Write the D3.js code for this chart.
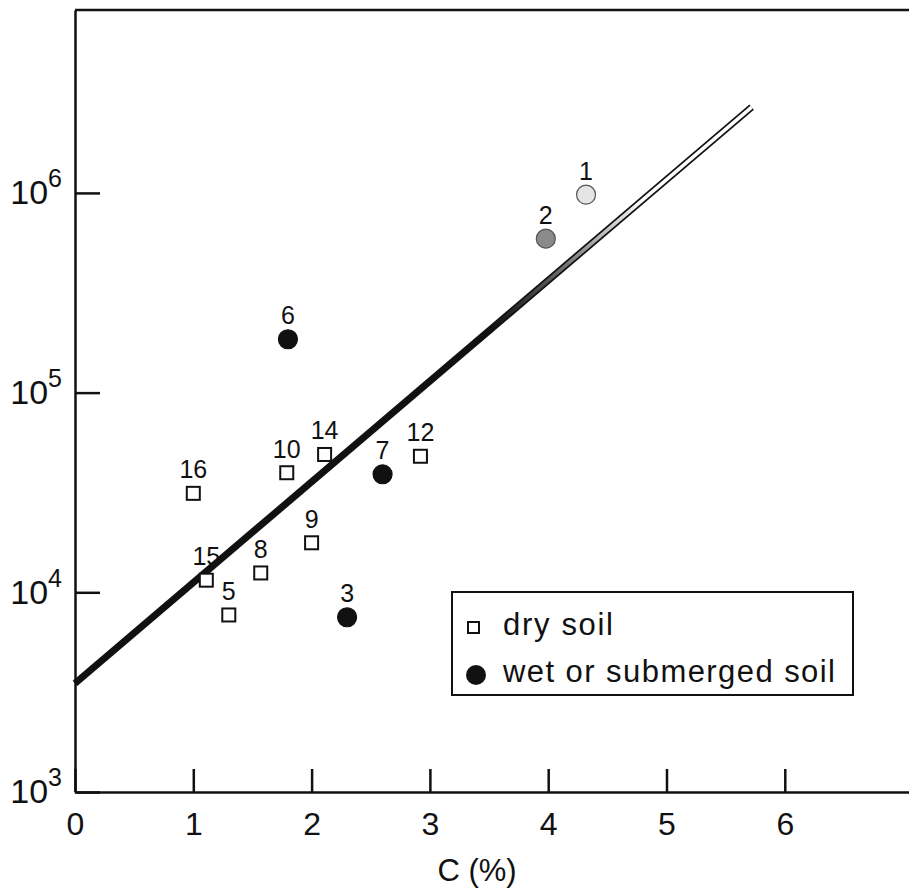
<html>
<head>
    <script src="https://cdn.jsdelivr.net/npm/d3@7"></script>
    <style>
        body { margin: 0; background: #fff; }
        svg { display: block; }
        text { font-family: "Liberation Sans", Arial, sans-serif; fill: #111; }
    </style>
</head>
<body>
    <svg id="Chart"></svg>
</body>
<script>
    //Data
    const pointIds   = ["1", "2", "3", "5", "6", "7", "8", "9", "10", "12", "14", "15", "16"]
    const carbonPct  = [4.32, 3.98, 2.30, 1.30, 1.80, 2.60, 1.57, 2.00, 1.79, 2.92, 2.11, 1.11, 1.00]
    const countValue = [9.8e5, 5.9e5, 7.5e3, 7.7e3, 1.85e5, 3.9e4, 1.25e4, 1.77e4, 3.97e4, 4.8e4, 4.9e4, 1.15e4, 3.13e4]
    const soilType   = ["light", "grey", "wet", "dry", "wet", "wet", "dry", "dry", "dry", "dry", "dry", "dry", "dry"]

    const fitX = [0, 5.72]
    const fitY = [3.5e3, 2.69e6]

    const xTicks = [0, 1, 2, 3, 4, 5, 6]
    const yTicks = [1e3, 1e4, 1e5, 1e6]
    const legendLabels = ["dry soil", "wet or submerged soil"]

    //Layout
    const WIDTH = 909
    const HEIGHT = 892
    const MARGIN = {left: 75, top: 10, right: 0, bottom: 100}

    const svg = d3.select("#Chart").attr("width", WIDTH).attr("height", HEIGHT)

    const x = d3.scaleLinear()
        .domain([0, 7.05])
        .range([MARGIN.left, WIDTH - MARGIN.right])

    const y = d3.scaleLog()
        .domain([1e3, Math.pow(10, 6.916)])
        .range([HEIGHT - MARGIN.bottom, MARGIN.top])

    //-------------------------- Axes --------------------------
    const xAxis = d3.axisBottom(x)
        .tickValues(xTicks)
        .tickSizeInner(-23)
        .tickSizeOuter(0)
        .tickPadding(20)
        .tickFormat(d3.format("d"))

    const gx = svg.append("g")
        .attr("transform", `translate(0,${y(1e3)})`)
        .call(xAxis)
    gx.selectAll("text").attr("font-size", 32).style("font-family", "Liberation Sans, sans-serif")

    const yAxis = d3.axisLeft(y)
        .tickValues(yTicks)
        .tickSizeInner(-25)
        .tickSizeOuter(0)
        .tickPadding(13)

    const gy = svg.append("g")
        .attr("transform", `translate(${x(0)},0)`)
        .call(yAxis)
    gy.selectAll(".tick text").each(function(d) {
        const t = d3.select(this)
        t.text("").attr("font-size", 34).style("font-family", "Liberation Sans, sans-serif")
        t.append("tspan").text("10")
        t.append("tspan").attr("dy", -17).attr("font-size", 25).text(Math.round(Math.log10(d)))
    })

    svg.selectAll(".domain, .tick line").attr("stroke", "#111").attr("stroke-width", 2.5)

    //top frame
    svg.append("line")
        .attr("x1", x(0)).attr("x2", WIDTH)
        .attr("y1", y.range()[1]).attr("y2", y.range()[1])
        .attr("stroke", "#111").attr("stroke-width", 2.5)

    svg.append("text")
        .attr("x", 477).attr("y", 881)
        .attr("text-anchor", "middle")
        .attr("font-size", 31)
        .text("C (%)")

    //-------------------------- Fit line --------------------------
    const fitData = fitX.map((v, i) => ({x: v, y: fitY[i]}))
    const fitLine = d3.line().x(d => x(d.x)).y(d => y(d.y))

    const grad = svg.append("defs").append("linearGradient")
        .attr("id", "fade")
        .attr("gradientUnits", "userSpaceOnUse")
        .attr("x1", x(fitX[0])).attr("y1", y(fitY[0]))
        .attr("x2", x(fitX[1])).attr("y2", y(fitY[1]))
    grad.append("stop").attr("offset", 0.62).attr("stop-color", "#111")
    grad.append("stop").attr("offset", 0.70).attr("stop-color", "#555")
    grad.append("stop").attr("offset", 0.78).attr("stop-color", "#bbb")
    grad.append("stop").attr("offset", 0.84).attr("stop-color", "#fff")

    svg.append("path")
        .datum(fitData)
        .attr("fill", "none")
        .attr("stroke", "#111")
        .attr("stroke-width", 7)
        .attr("d", fitLine)

    svg.append("path")
        .datum(fitData)
        .attr("fill", "none")
        .attr("stroke", "url(#fade)")
        .attr("stroke-width", 3.5)
        .attr("d", fitLine)

    //-------------------------- Points --------------------------
    const points = pointIds.map((id, i) => ({id, c: carbonPct[i], v: countValue[i], type: soilType[i]}))
    const fills = {wet: "#111", grey: "#8a8a8a", light: "#e4e4e4"}

    svg.selectAll(".sq")
        .data(points.filter(d => d.type === "dry"))
        .enter().append("rect")
        .attr("x", d => x(d.c) - 6.5)
        .attr("y", d => y(d.v) - 6.5)
        .attr("width", 13).attr("height", 13)
        .attr("fill", "#fff")
        .attr("stroke", "#111")
        .attr("stroke-width", 2)

    svg.selectAll(".dot")
        .data(points.filter(d => d.type !== "dry"))
        .enter().append("circle")
        .attr("cx", d => x(d.c))
        .attr("cy", d => y(d.v))
        .attr("r", 9.5)
        .attr("fill", d => fills[d.type])
        .attr("stroke", d => d.type === "wet" ? "#111" : "#555")
        .attr("stroke-width", 1.2)

    svg.selectAll(".lbl")
        .data(points)
        .enter().append("text")
        .attr("x", d => x(d.c))
        .attr("y", d => y(d.v) - 15)
        .attr("text-anchor", "middle")
        .attr("font-size", 25)
        .text(d => d.id)

    //-------------------------- Legend --------------------------
    const legend = svg.append("g")
    legend.append("rect")
        .attr("x", 452).attr("y", 592)
        .attr("width", 401).attr("height", 103)
        .attr("fill", "#fff")
        .attr("stroke", "#111")
        .attr("stroke-width", 2)

    legend.append("rect")
        .attr("x", 468).attr("y", 622)
        .attr("width", 11).attr("height", 11)
        .attr("fill", "#fff").attr("stroke", "#111").attr("stroke-width", 2)
    legend.append("circle")
        .attr("cx", 476).attr("cy", 675).attr("r", 10)
        .attr("fill", "#111")

    const legendWidths = [110, 332]
    legend.selectAll(".lt")
        .data(legendLabels)
        .enter().append("text")
        .attr("x", 503)
        .attr("y", (d, i) => 635 + i * 47)
        .attr("font-size", 31)
        .attr("textLength", (d, i) => legendWidths[i])
        .attr("lengthAdjust", "spacing")
        .text(d => d)
</script>
</html>
